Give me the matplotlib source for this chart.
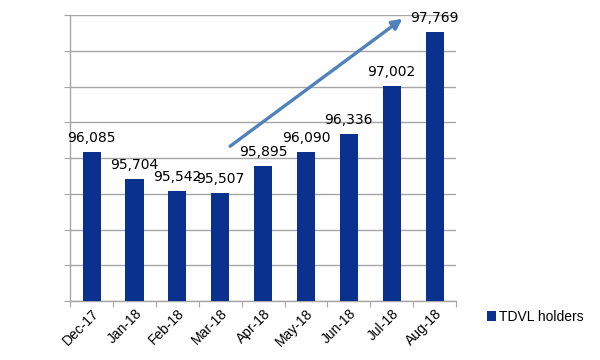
import matplotlib
matplotlib.use('Agg')
import matplotlib.pyplot as plt
import numpy as np

months = ['Dec-17', 'Jan-18', 'Feb-18', 'Mar-18', 'Apr-18', 'May-18', 'Jun-18', 'Jul-18', 'Aug-18']
holders = [96085, 95704, 95542, 95507, 95895, 96090, 96336, 97002, 97769]
value_labels = ['96,085', '95,704', '95,542', '95,507', '95,895', '96,090', '96,336', '97,002', '97,769']
y_ticks = np.arange(94000, 98001, 500)

bar_color = '#0B318F'
grid_color = '#A6A6A6'

fig = plt.figure(figsize=(6, 3.6), dpi=100)
ax = fig.add_axes([0.117, 0.164, 0.643, 0.794])

x = np.arange(len(months))
bars = ax.bar(x, holders, 0.42, color=bar_color, label='TDVL holders', zorder=3)

ax.set_ylim(94000, 98000)
ax.set_xlim(-0.5, len(months) - 0.5)
ax.set_yticks(y_ticks)
ax.set_yticklabels([])
ax.yaxis.grid(True, color=grid_color, linewidth=1, zorder=0)
ax.tick_params(axis='y', length=4, color=grid_color, direction='out')

# ticks between categories on x, labels at bar centers
ax.set_xticks(np.arange(len(months) + 1) - 0.5)
ax.set_xticklabels([])
ax.tick_params(axis='x', which='major', length=4, color=grid_color)
ax.set_xticks(x, minor=True)
ax.set_xticklabels(months, minor=True, rotation=45, ha='right', rotation_mode='anchor',
                   family='Liberation Sans', fontsize=10)
ax.tick_params(axis='x', which='minor', length=0, pad=4)

for s in ['top', 'right']:
    ax.spines[s].set_visible(False)
for s in ['left', 'bottom']:
    ax.spines[s].set_color(grid_color)
    ax.spines[s].set_linewidth(1)

for xi, v, lab in zip(x, holders, value_labels):
    ax.annotate(lab, (xi, v), xytext=(0, 5), textcoords='offset points',
                ha='center', va='bottom', fontsize=10, family='DejaVu Sans', zorder=4)

# trend arrow
ax.annotate('', xy=(7.25, 97950), xytext=(3.23, 96165),
            arrowprops=dict(arrowstyle='-|>', color='#4F81BD', lw=2.4,
                            mutation_scale=15, shrinkA=0, shrinkB=0), zorder=5)

ax.legend(loc='center left', bbox_to_anchor=(0.79, 0.12), bbox_transform=fig.transFigure,
          frameon=False, handlelength=0.7, handleheight=0.7, handletextpad=0.2,
          prop={'family': 'Liberation Sans', 'size': 10})

fig.savefig('out.png', dpi=100)
